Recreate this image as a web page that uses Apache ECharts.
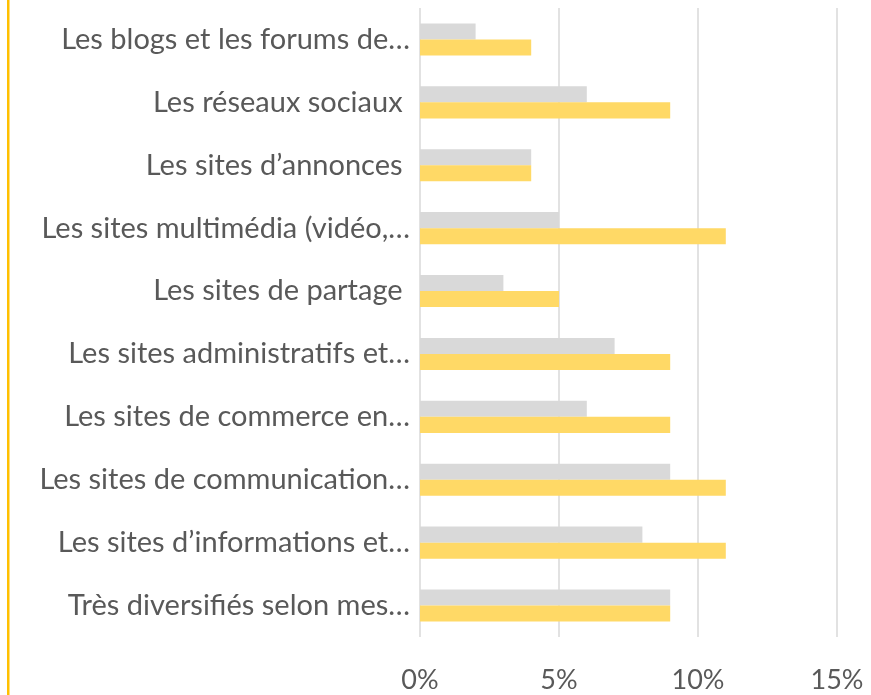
<!DOCTYPE html>
<html>
<head>
<meta charset="utf-8">
<script src="https://cdn.jsdelivr.net/npm/echarts@6/dist/echarts.min.js"></script>
<style>
  html, body { margin: 0; padding: 0; background: #fff; }
  #chart { width: 871px; height: 695px; }
</style>
</head>
<body>
<div id="chart"></div>
<script>
// libellés tels qu'affichés (tronqués) dans le graphique
var categories = [
  'Les blogs et les forums de…',
  'Les réseaux sociaux ',
  'Les sites d’annonces ',
  'Les sites multimédia (vidéo,…',
  'Les sites de partage ',
  'Les sites administratifs et…',
  'Les sites de commerce en…',
  'Les sites de communication…',
  'Les sites d’informations et…',
  'Très diversifiés selon mes…'
]
var serieGris = [2, 6, 4, 5, 3, 7, 6, 9, 8, 9]
var serieJaune = [4, 9, 4, 11, 5, 9, 9, 11, 11, 9]
var xTicks = [0, 5, 10, 15]

var chart = echarts.init(document.getElementById('chart'))

chart.setOption({
  animation: false,
  textStyle: { fontFamily: 'Lato' },
  grid: { left: 420, right: 34, top: 8, bottom: 58 },
  graphic: [{
    type: 'rect',
    shape: { x: 7, y: 0, width: 2.5, height: 695 },
    style: { fill: '#FFC000' }
  }],
  xAxis: {
    type: 'value',
    min: xTicks[0],
    max: xTicks[xTicks.length - 1],
    interval: 5,
    axisLine: { show: false },
    axisTick: { show: false },
    splitLine: { lineStyle: { color: '#D9D9D9', width: 1.5 } },
    axisLabel: {
      formatter: '{value}%',
      color: '#595959',
      fontSize: 27,
      margin: 30
    }
  },
  yAxis: {
    type: 'category',
    inverse: true,
    data: categories,
    axisLine: { show: false },
    axisTick: { show: false },
    axisLabel: {
      color: '#595959',
      fontSize: 29,
      margin: 10
    }
  },
  series: [
    {
      name: 'Série 1',
      type: 'bar',
      data: serieGris,
      itemStyle: { color: '#D9D9D9' },
      barGap: '0%',
      barCategoryGap: '49%'
    },
    {
      name: 'Série 2',
      type: 'bar',
      data: serieJaune,
      itemStyle: { color: '#FFD966' },
      barGap: '0%',
      barCategoryGap: '49%'
    }
  ]
})
</script>
</body>
</html>
